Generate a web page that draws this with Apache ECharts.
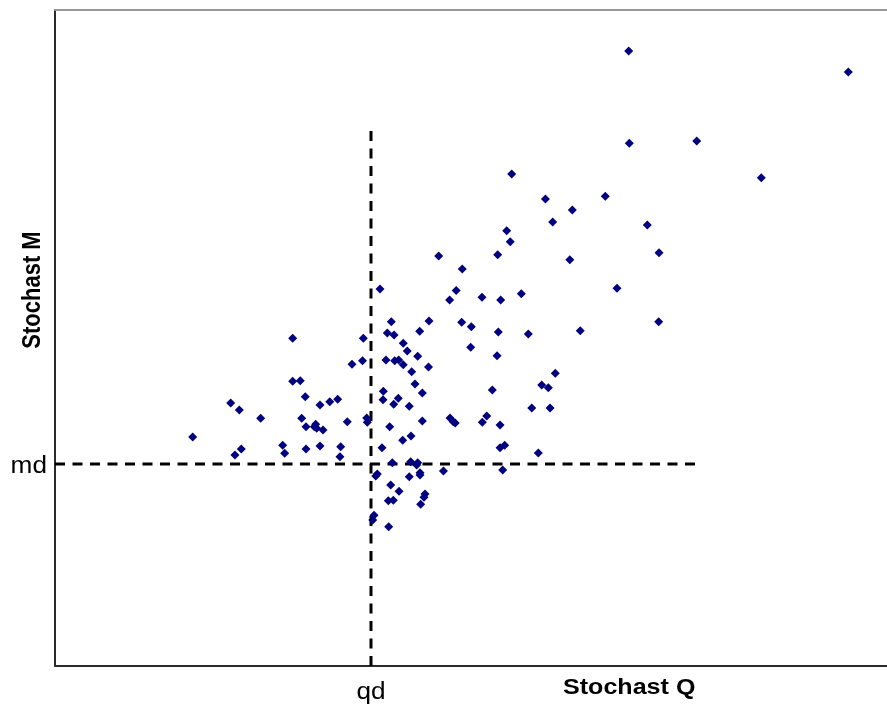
<!DOCTYPE html>
<html>
<head>
<meta charset="utf-8">
<title>Stochast Q vs Stochast M</title>
<script src="https://cdn.jsdelivr.net/npm/echarts@6/dist/echarts.min.js"></script>
<style>
  html, body { margin: 0; padding: 0; background: #ffffff; }
  #chart { width: 887px; height: 709px; }
</style>
</head>
<body>
<div id="chart"></div>
<script>
// Sample pairs (Stochast Q, Stochast M)
const qValues = [
  68.95, 95.35, 69.03, 77.13, 84.89, 58.95, 66.14, 62.18, 59.82, 71.19,
  72.60, 61.88, 67.55, 72.56, 63.13, 54.89, 54.29, 54.72, 46.12, 53.21,
  48.95, 48.22, 47.43, 51.32, 53.57, 56.05, 44.95, 48.88, 50.04, 53.28,
  56.89, 49.96, 53.13, 44.89, 60.13, 58.50, 59.29, 52.56, 57.30, 59.50,
  47.48, 47.87, 48.11, 51.89, 51.36, 53.49, 53.49, 54.05, 58.09, 46.69,
  53.81, 39.06, 40.42, 37.06, 39.94, 40.75, 43.83, 41.86, 42.34, 36.96,
  39.78, 40.83, 41.31, 41.86, 43.59, 42.87, 43.27, 44.15, 39.46, 39.42,
  41.26, 40.71, 42.58, 37.46, 37.54, 44.15, 40.23, 41.79, 42.79, 39.30,
  40.54, 42.75, 43.59, 43.47, 38.55, 38.74, 42.58, 43.87, 43.87, 40.35,
  41.35, 44.47, 44.35, 40.06, 40.66, 43.95, 38.34, 38.19, 40.11, 28.57,
  35.70, 28.57, 29.48, 30.08, 21.12, 22.15, 24.72, 29.65, 30.17, 31.33,
  31.45, 31.17, 32.21, 31.85, 33.02, 33.98, 35.13, 16.55, 21.63, 22.39,
  27.37, 27.61, 30.17, 31.85, 34.34, 34.25
];
const mValues = [
  93.75, 90.55, 79.68, 80.03, 74.44, 71.19, 71.60, 69.51, 67.68, 67.23,
  63.00, 61.94, 57.58, 52.48, 51.11, 75.00, 66.36, 64.68, 62.50, 62.70,
  60.52, 57.24, 55.79, 56.20, 55.79, 56.75, 52.59, 52.39, 51.72, 50.91,
  50.61, 48.58, 47.30, 45.58, 44.62, 42.84, 42.42, 42.07, 39.33, 39.33,
  37.80, 37.24, 37.04, 38.11, 37.15, 36.74, 33.28, 33.64, 32.47, 29.73,
  29.88, 57.47, 52.48, 49.95, 50.76, 50.46, 51.02, 49.19, 48.02, 46.54,
  46.65, 46.54, 46.65, 45.93, 47.21, 44.86, 42.99, 41.62, 41.88, 40.59,
  40.81, 39.89, 39.59, 37.80, 37.15, 37.35, 36.48, 34.41, 35.06, 33.28,
  30.99, 31.14, 30.99, 30.64, 28.96, 29.27, 28.86, 29.47, 29.12, 27.59,
  26.63, 26.22, 25.72, 25.20, 25.26, 24.65, 22.97, 22.26, 21.23, 49.95,
  45.99, 43.40, 43.49, 41.05, 40.09, 39.02, 37.76, 37.76, 36.48, 36.84,
  36.23, 36.48, 35.98, 39.79, 40.29, 40.66, 37.24, 34.91, 32.16, 33.08,
  33.64, 32.42, 33.08, 33.54, 33.43, 31.91
];

// Design values and extent of the dashed reference lines
const qd = 37.98;
const md = 30.79;
const qdLineTop = 81.7;
const mdLineEnd = 76.92;

const axisRange = [0, 100];
const qTickLabels = ['qd'];
const mTickLabels = ['md'];
const axisTitles = ['Stochast Q', 'Stochast M'];

const points = qValues.map((q, i) => [q, mValues[i]]);

const chart = echarts.init(document.getElementById('chart'), null, { renderer: 'canvas' });

const dashStyle = { color: '#000000', width: 3, type: [10, 7.5] };
const plainFont = '23px "Liberation Sans", Arial, sans-serif';
const boldFont = 'bold 22px "Liberation Sans", Arial, sans-serif';
const stretch = 1.14;

chart.setOption({
  animation: false,
  backgroundColor: '#ffffff',
  grid: { left: 55, right: 0, top: 10, bottom: 43, containLabel: false },
  xAxis: [
    {
      type: 'value',
      min: axisRange[0],
      max: axisRange[1],
      position: 'bottom',
      splitLine: { show: false },
      axisTick: { show: false },
      axisLabel: { show: false },
      axisLine: { show: true, onZero: false, lineStyle: { color: '#2b2b2b', width: 2 } }
    },
    {
      type: 'value',
      min: axisRange[0],
      max: axisRange[1],
      position: 'top',
      splitLine: { show: false },
      axisTick: { show: false },
      axisLabel: { show: false },
      axisLine: { show: true, onZero: false, lineStyle: { color: '#999999', width: 2 } }
    }
  ],
  yAxis: {
    type: 'value',
    min: axisRange[0],
    max: axisRange[1],
    splitLine: { show: false },
    axisTick: { show: false },
    axisLabel: { show: false },
    axisLine: { show: true, onZero: false, lineStyle: { color: '#2b2b2b', width: 2 } }
  },
  series: [
    {
      type: 'line',
      silent: true,
      symbol: 'none',
      z: 1,
      lineStyle: dashStyle,
      data: [[qd, axisRange[0]], [qd, qdLineTop]]
    },
    {
      type: 'line',
      silent: true,
      symbol: 'none',
      z: 1,
      lineStyle: dashStyle,
      data: [[axisRange[0], md], [mdLineEnd, md]]
    },
    {
      type: 'scatter',
      z: 3,
      symbol: 'diamond',
      symbolSize: 9,
      itemStyle: { color: '#000080', opacity: 1 },
      data: points
    }
  ]
});

// Place the qd / md marks and the axis titles; qd and md sit where the axes put those values
const qdX = chart.convertToPixel({ xAxisIndex: 0 }, qd);
const mdY = chart.convertToPixel({ yAxisIndex: 0 }, md);

chart.setOption({
  graphic: [
    {
      type: 'text',
      x: qdX,
      y: 693,
      scaleX: stretch,
      style: { text: qTickLabels[0], font: plainFont, fill: '#000000', align: 'center', verticalAlign: 'middle' }
    },
    {
      type: 'text',
      x: 47,
      y: mdY + 3,
      scaleX: stretch,
      style: { text: mTickLabels[0], font: plainFont, fill: '#000000', align: 'right', verticalAlign: 'middle' }
    },
    {
      type: 'text',
      x: 563,
      y: 688,
      scaleX: stretch,
      style: { text: axisTitles[0], font: boldFont, fill: '#000000', align: 'left', verticalAlign: 'middle' }
    },
    {
      type: 'text',
      x: 33,
      y: 290,
      rotation: Math.PI / 2,
      scaleY: stretch,
      style: { text: axisTitles[1], font: boldFont, fill: '#000000', align: 'center', verticalAlign: 'middle' }
    }
  ]
});
</script>
</body>
</html>
